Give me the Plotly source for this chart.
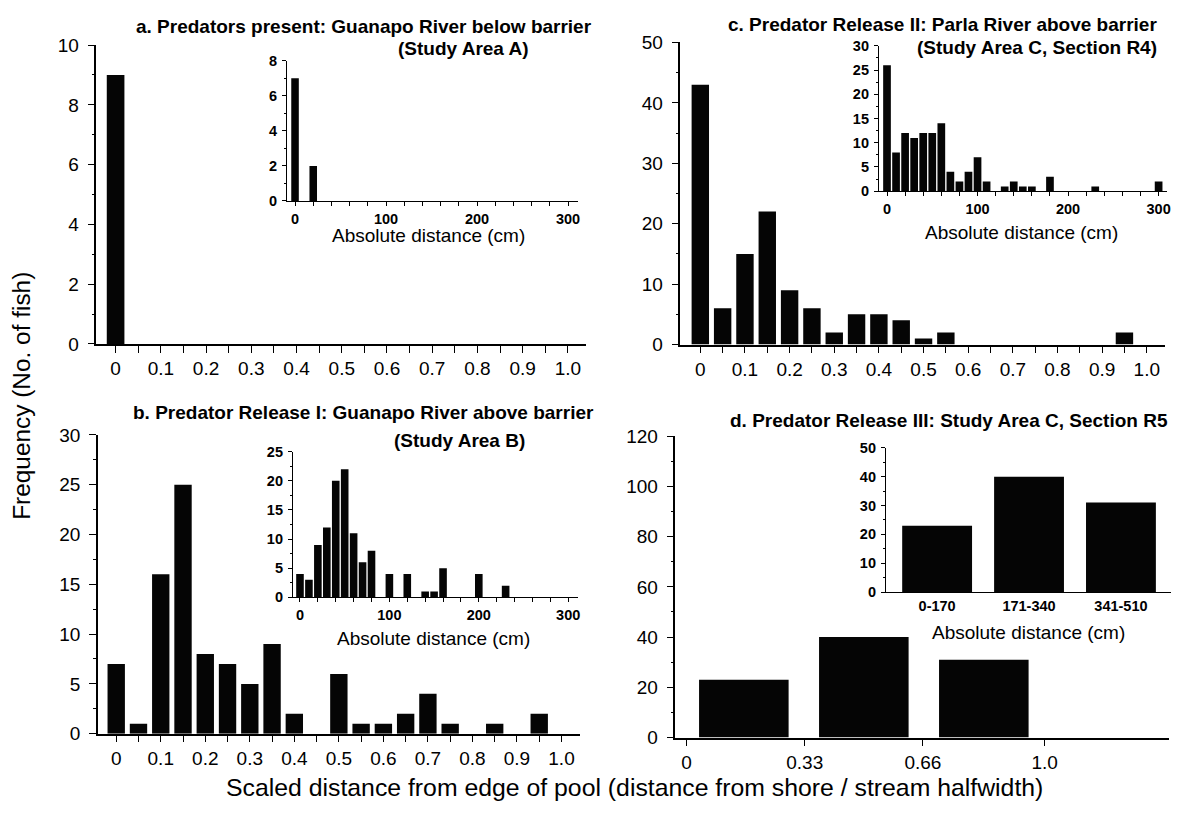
import plotly.graph_objects as go

# ---------------- data ----------------
scaled_bins = [0, 0.05, 0.1, 0.15, 0.2, 0.25, 0.3, 0.35, 0.4, 0.45,
               0.5, 0.55, 0.6, 0.65, 0.7, 0.75, 0.8, 0.85, 0.9, 0.95]
freq_a = [9, 0, 0, 0, 0, 0, 0, 0, 0, 0, 0, 0, 0, 0, 0, 0, 0, 0, 0, 0]
freq_b = [7, 1, 16, 25, 8, 7, 5, 9, 2, 0, 6, 1, 1, 2, 4, 1, 0, 1, 0, 2]
freq_c = [43, 6, 15, 22, 9, 6, 2, 5, 5, 4, 1, 2, 0, 0, 0, 0, 0, 0, 0, 2]

abs_a_cm = [0, 20]
abs_a_freq = [7, 2]

abs_b_cm = [0, 10, 20, 30, 40, 50, 60, 70, 80, 100, 120, 140, 150, 160, 200, 230]
abs_b_freq = [4, 3, 9, 12, 20, 22, 11, 6, 8, 4, 4, 1, 1, 5, 4, 2]

abs_c_cm = [0, 10, 20, 30, 40, 50, 60, 70, 80, 90, 100, 110, 130, 140, 150, 160, 180, 230, 300]
abs_c_freq = [26, 8, 12, 11, 12, 12, 14, 4, 2, 4, 7, 2, 1, 2, 1, 1, 3, 1, 2]

d_scaled_centers = [0.16, 0.495, 0.83]
d_freq = [23, 40, 31]
d_abs_categories = ["0-170", "171-340", "341-510"]
d_abs_freq = [23, 40, 31]

scaled_ticks = [round(0.05 * i, 2) for i in range(21)]
scaled_ticktext = ["0" if v == 0 else ("1.0" if v == 1 else (f"{v:.1f}" if i % 2 == 0 else ""))
                   for i, v in enumerate(scaled_ticks)]
d_ticks = [0, 0.33, 0.66, 1.0]
d_ticktext = ["0", "0.33", "0.66", "1.0"]

titles = {
    "a1": "a. Predators present: Guanapo River below barrier",
    "a2": "(Study Area A)",
    "b1": "b. Predator Release I: Guanapo River above barrier",
    "b2": "(Study Area B)",
    "c1": "c. Predator Release II: Parla River above barrier",
    "c2": "(Study Area C, Section R4)",
    "d1": "d. Predator Release III: Study Area C, Section R5",
}
inset_xtitle = "Absolute distance (cm)"
ytitle = "Frequency (No. of fish)"
xtitle = "Scaled distance from edge of pool (distance from shore / stream halfwidth)"

# ---------------- layout helpers ----------------
W, H = 1189, 821
FONT = "Liberation Sans, Arial, Helvetica, sans-serif"


def px_x(v):
    return v / W


def px_y(v):
    return 1 - v / H


fig = go.Figure()
BAR = dict(marker=dict(color="#050505", line=dict(width=0)), showlegend=False, hoverinfo="x+y")

# main panels
fig.add_trace(go.Bar(x=scaled_bins, y=freq_a, width=0.039, xaxis="x", yaxis="y", **BAR))
fig.add_trace(go.Bar(x=scaled_bins, y=freq_c, width=0.039, xaxis="x2", yaxis="y2", **BAR))
fig.add_trace(go.Bar(x=scaled_bins, y=freq_b, width=0.039, xaxis="x3", yaxis="y3", **BAR))
fig.add_trace(go.Bar(x=d_scaled_centers, y=d_freq, width=0.25, xaxis="x4", yaxis="y4", **BAR))
# insets
fig.add_trace(go.Bar(x=abs_a_cm, y=abs_a_freq, width=8.3, xaxis="x5", yaxis="y5", **BAR))
fig.add_trace(go.Bar(x=abs_c_cm, y=abs_c_freq, width=8.5, xaxis="x6", yaxis="y6", **BAR))
fig.add_trace(go.Bar(x=abs_b_cm, y=abs_b_freq, width=8.5, xaxis="x7", yaxis="y7", **BAR))
fig.add_trace(go.Bar(x=d_abs_categories, y=d_abs_freq, width=0.76, xaxis="x8", yaxis="y8", **BAR))

AX = dict(showline=True, linecolor="black", linewidth=1.5, showgrid=False, zeroline=False,
          ticks="outside", tickcolor="black", tickwidth=1.3, fixedrange=True)


def main_x(dom, rng, tickvals, ticktext, anchor):
    return dict(AX, domain=dom, range=rng, tickmode="array", tickvals=tickvals, ticktext=ticktext,
                ticklen=7, tickfont=dict(family=FONT, size=19, color="black"), anchor=anchor)


def main_y(dom, rng, dtick, minor, anchor):
    return dict(AX, domain=dom, range=rng, tickmode="linear", tick0=0, dtick=dtick, ticklen=7,
                tickfont=dict(family=FONT, size=19, color="black"), anchor=anchor,
                ticklabelstandoff=5,
                minor=dict(dtick=minor, tick0=0, ticklen=3, ticks="outside", tickcolor="black",
                           tickwidth=1, showgrid=False))


def inset_x(dom, rng, anchor):
    return dict(AX, domain=dom, range=rng, tickmode="linear", tick0=0, dtick=100, ticklen=4,
                tickfont=dict(family=FONT, size=14.5, color="black", weight="bold"), anchor=anchor,
                linewidth=1.3, ticklabelstandoff=0,
                minor=dict(dtick=20, tick0=0, ticklen=4, ticks="outside", tickcolor="black",
                           tickwidth=1, showgrid=False))


def inset_y(dom, rng, dtick, anchor):
    return dict(AX, domain=dom, range=rng, tickmode="linear", tick0=0, dtick=dtick, ticklen=4,
                tickfont=dict(family=FONT, size=14.5, color="black", weight="bold"), anchor=anchor,
                linewidth=1.3, ticklabelstandoff=2,
                minor=dict(dtick=dtick / 2, tick0=0, ticklen=2, ticks="outside", tickcolor="black",
                           tickwidth=1, showgrid=False))


layout = dict(
    width=W, height=H, margin=dict(l=0, r=0, t=0, b=0),
    paper_bgcolor="white", plot_bgcolor="rgba(0,0,0,0)",
    font=dict(family=FONT, color="black"),
    showlegend=False,
    # a
    xaxis=main_x([px_x(96.7), px_x(588)], [-0.0425, 1.04], scaled_ticks, scaled_ticktext, "y"),
    yaxis=main_y([px_y(342.7), px_y(36)], [0, 10], 2, 1, "x"),
    # c
    xaxis2=main_x([px_x(682.7), px_x(1169)], [-0.0446, 1.041], scaled_ticks, scaled_ticktext, "y2"),
    yaxis2=main_y([px_y(343.3), px_y(33.3)], [0, 50], 10, 5, "x2"),
    # b
    xaxis3=main_x([px_x(98.3), px_x(581.7)], [-0.041, 1.041], scaled_ticks, scaled_ticktext, "y3"),
    yaxis3=main_y([px_y(742.7), px_y(436)], [0, 30], 5, 2.5, "x3"),
    # d
    xaxis4=main_x([px_x(677.7), px_x(1173.3)], [-0.031, 1.348], d_ticks, d_ticktext, "y4"),
    yaxis4=main_y([px_y(746.7), px_y(437.3)], [0, 120], 20, 10, "x4"),
    # insets
    xaxis5=inset_x([px_x(288), px_x(580)], [-8.8, 311], "y5"),
    yaxis5=inset_y([px_y(196), px_y(52)], [0, 8], 2, "x5"),
    xaxis6=inset_x([px_x(882), px_x(1170.7)], [-8.8, 309], "y6"),
    yaxis6=inset_y([px_y(186), px_y(36.7)], [0, 30], 5, "x6"),
    xaxis7=inset_x([px_x(294), px_x(580)], [-7.8, 311], "y7"),
    yaxis7=inset_y([px_y(602.7), px_y(453.3)], [0, 25], 5, "x7"),
    xaxis8=dict(AX, domain=[px_x(889), px_x(1175)], range=[-0.556, 2.545], type="category",
                ticks="", linewidth=1.3, anchor="y8", ticklabelstandoff=0,
                tickfont=dict(family=FONT, size=14.5, color="black", weight="bold")),
    yaxis8=inset_y([px_y(597.3), px_y(449.3)], [0, 50], 10, "x8"),
)
fig.update_layout(**layout)

ann = []


def text(x, y, s, size, bold=False, angle=0):
    ann.append(dict(x=px_x(x), y=px_y(y), xref="paper", yref="paper", text=s, showarrow=False,
                    xanchor="center", yanchor="middle", textangle=angle,
                    font=dict(family=FONT, size=size, color="black",
                              weight="bold" if bold else "normal")))


TS = 19
text(365, 17, titles["a1"], TS, True)
text(465, 40, titles["a2"], TS, True)
text(945.5, 15, titles["c1"], TS, True)
text(1041, 38, titles["c2"], TS, True)
text(365, 413, titles["b1"], TS, True)
text(460.7, 442, titles["b2"], TS, True)
text(952.5, 421, titles["d1"], TS, True)

IS = 19
text(430, 231, inset_xtitle, IS)
text(1025, 228, inset_xtitle, IS)
text(435, 645, inset_xtitle, IS)
text(1031.5, 639, inset_xtitle, IS)

text(22, 396, ytitle, 24.4, angle=-90)
text(637, 798, xtitle, 24.8)

fig.update_layout(annotations=ann)
fig.write_html("out.html", post_script="document.body.style.margin='0';",
               config={"displayModeBar": False})
